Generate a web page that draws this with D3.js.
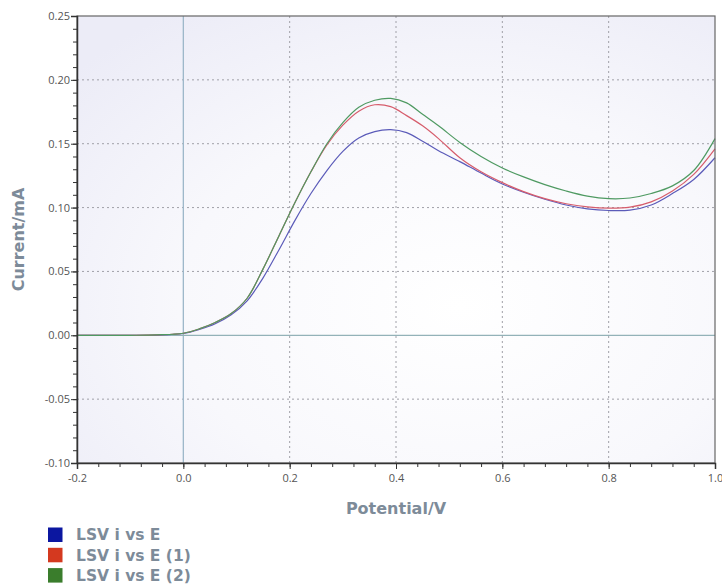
<html>
<head>
<meta charset="UTF-8">
<title>LSV i vs E</title>
<script src="https://cdn.jsdelivr.net/npm/d3@7/dist/d3.min.js"></script>
<style>
body { margin: 0; background: #fff; }
.tick text { font-family: "Open Sans", sans-serif; font-size: 11px; fill: #555; }
.title { font-family: "DejaVu Sans", Verdana, sans-serif; font-weight: bold; font-size: 16px; fill: #7d8b99; }
.legend text { font-family: "DejaVu Sans", Verdana, sans-serif; font-weight: bold; font-size: 15.5px; fill: #7d8b99; }
.grid line { stroke: #a0a0a8; stroke-dasharray: 2,3; }
.curve { fill: none; stroke-width: 1.2px; }
</style>
</head>
<body>
<div id="chart"></div>
<script>
// potential (V)
var potential = [-0.2, -0.1, -0.05, 0.0, 0.03, 0.06, 0.09, 0.12, 0.15, 0.18, 0.21, 0.24, 0.27, 0.30, 0.33, 0.36, 0.39, 0.42, 0.45, 0.48, 0.52, 0.56, 0.60, 0.64, 0.68, 0.72, 0.76, 0.80, 0.84, 0.88, 0.92, 0.96, 1.0];
// current (mA)
var lsv0 = [0, 0, 0.0002, 0.0014, 0.0045, 0.009, 0.016, 0.027, 0.045, 0.067, 0.090, 0.111, 0.129, 0.144, 0.1545, 0.1595, 0.161, 0.1587, 0.152, 0.1445, 0.136, 0.127, 0.1185, 0.112, 0.1065, 0.102, 0.099, 0.0977, 0.098, 0.102, 0.111, 0.122, 0.139];
var lsv1 = [0, 0, 0.0003, 0.0016, 0.005, 0.010, 0.017, 0.029, 0.052, 0.078, 0.104, 0.128, 0.149, 0.1645, 0.1755, 0.1805, 0.179, 0.172, 0.164, 0.154, 0.139, 0.128, 0.1195, 0.1125, 0.107, 0.103, 0.1005, 0.0995, 0.1003, 0.1045, 0.113, 0.126, 0.146];
var lsv2 = [0, 0, 0.0003, 0.0016, 0.005, 0.010, 0.017, 0.029, 0.052, 0.078, 0.104, 0.128, 0.150, 0.1665, 0.1785, 0.1840, 0.1855, 0.182, 0.173, 0.164, 0.151, 0.140, 0.131, 0.124, 0.118, 0.113, 0.109, 0.107, 0.1075, 0.111, 0.117, 0.129, 0.154];

var seriesNames = ["LSV i vs E", "LSV i vs E (1)", "LSV i vs E (2)"];
var lineColors = ["#5b5bb9", "#d65d6c", "#4f9a62"];
var swatchColors = ["#0b16a0", "#d4391f", "#3a7d2c"];

var xTicks = [-0.2, 0.0, 0.2, 0.4, 0.6, 0.8, 1.0];
var yTicks = [-0.10, -0.05, 0.00, 0.05, 0.10, 0.15, 0.20, 0.25];

var W = 722, H = 584,
  m = {left: 77, top: 16, right: 7, bottom: 121},
  pw = W - m.left - m.right,
  ph = H - m.top - m.bottom;

var loc = d3.formatLocale({decimal: ".", thousands: ",", grouping: [3], currency: ["", ""], minus: "-"});

var x = d3.scaleLinear().domain([-0.2, 1.0]).range([0, pw]);
var y = d3.scaleLinear().domain([-0.10, 0.25]).range([ph, 0]);

var svg = d3.select("#chart").append("svg")
  .attr("width", W).attr("height", H);

var defs = svg.append("defs");
var grad = defs.append("radialGradient").attr("id", "bg")
  .attr("cx", "0.6").attr("cy", "0.65").attr("r", "0.8");
grad.append("stop").attr("offset", "0%").attr("stop-color", "#ffffff");
grad.append("stop").attr("offset", "55%").attr("stop-color", "#f8f8fc");
grad.append("stop").attr("offset", "100%").attr("stop-color", "#ececf7");

var g = svg.append("g").attr("transform", "translate(" + m.left + "," + m.top + ")");

g.append("rect").attr("width", pw).attr("height", ph).attr("fill", "url(#bg)");

// dotted grid
g.append("g").attr("class", "grid")
  .selectAll("line").data(xTicks.filter(function(d){ return d !== 0 && d > -0.2 && d < 1.0; }))
  .join("line")
  .attr("x1", x).attr("x2", x).attr("y1", 0).attr("y2", ph);
g.append("g").attr("class", "grid")
  .selectAll("line").data(yTicks.filter(function(d){ return d !== 0 && d > -0.1 && d < 0.25; }))
  .join("line")
  .attr("y1", y).attr("y2", y).attr("x1", 0).attr("x2", pw);

// zero lines
g.append("line").attr("x1", x(0)).attr("x2", x(0)).attr("y1", 0).attr("y2", ph)
  .attr("stroke", "#9db7c9").attr("stroke-width", 1.3);
g.append("line").attr("x1", 0).attr("x2", pw).attr("y1", y(0)).attr("y2", y(0))
  .attr("stroke", "#93b2b8").attr("stroke-width", 1.3);

// curves
var allSeries = [lsv0, lsv1, lsv2];
allSeries.forEach(function(vals, i){
  var pts = potential.map(function(p, j){ return [p, vals[j]]; });
  g.append("path")
    .attr("class", "curve")
    .attr("stroke", lineColors[i])
    .attr("d", d3.line()
      .curve(d3.curveCatmullRom.alpha(0.5))
      .x(function(d){ return x(d[0]); })
      .y(function(d){ return y(d[1]); })(pts));
});

// frame
g.append("rect").attr("width", pw).attr("height", ph)
  .attr("fill", "none").attr("stroke", "#666").attr("stroke-width", 1.2);

// minor ticks
g.append("g")
  .attr("transform", "translate(0," + ph + ")")
  .call(d3.axisBottom(x).tickValues(d3.range(-0.2, 1.0001, 0.04)).tickSize(4).tickFormat(""))
  .call(function(s){ s.select(".domain").remove(); s.selectAll("line").attr("stroke", "#333"); });
g.append("g")
  .call(d3.axisLeft(y).tickValues(d3.range(-0.10, 0.2501, 0.01)).tickSize(4).tickFormat(""))
  .call(function(s){ s.select(".domain").remove(); s.selectAll("line").attr("stroke", "#333"); });

// major axes
g.append("g")
  .attr("transform", "translate(0," + ph + ")")
  .call(d3.axisBottom(x).tickValues(xTicks).tickSize(6).tickPadding(5).tickFormat(loc.format(".1f")))
  .call(function(s){ s.select(".domain").attr("stroke", "#333").attr("stroke-width", 1.5); s.selectAll("line").attr("stroke", "#333"); });
g.append("g")
  .call(d3.axisLeft(y).tickValues(yTicks).tickSize(6).tickPadding(1).tickFormat(loc.format(".2f")))
  .call(function(s){ s.select(".domain").attr("stroke", "#333").attr("stroke-width", 1.5); s.selectAll("line").attr("stroke", "#333"); });

// axis titles
svg.append("text").attr("class", "title")
  .attr("x", m.left + pw / 2).attr("y", 514)
  .attr("text-anchor", "middle")
  .text("Potential/V");
svg.append("text").attr("class", "title")
  .attr("transform", "translate(24," + (m.top + ph / 2) + ") rotate(-90)")
  .attr("text-anchor", "middle")
  .text("Current/mA");

// legend
var leg = svg.append("g").attr("class", "legend");
seriesNames.forEach(function(name, i){
  var row = leg.append("g").attr("transform", "translate(48," + (527.5 + i * 20.3) + ")");
  row.append("rect").attr("width", 14.5).attr("height", 14.5).attr("fill", swatchColors[i]);
  row.append("text").attr("x", 28).attr("y", 12.8).text(name);
});
</script>
</body>
</html>
